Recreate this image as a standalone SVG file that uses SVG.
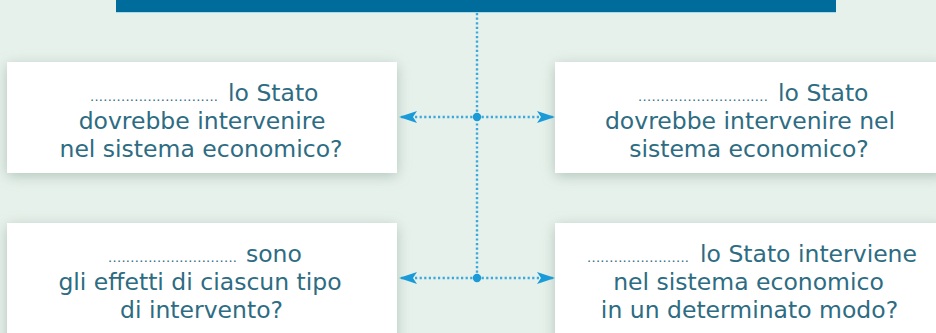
<svg xmlns="http://www.w3.org/2000/svg" width="936" height="333" viewBox="0 0 936 333">
  <defs>
    <filter id="sh" x="-10%" y="-20%" width="120%" height="150%">
      <feDropShadow dx="0" dy="3" stdDeviation="7" flood-color="#6f8f80" flood-opacity="0.45"/>
    </filter>
    <marker id="ah" viewBox="0 0 18 12" refX="18" refY="6" markerWidth="18" markerHeight="12" markerUnits="userSpaceOnUse" orient="auto">
      <path d="M0,0 L18,6 L0,12 L4,6 Z" fill="#1b9ad8"/>
    </marker>
    <style>
      .box{fill:#ffffff;filter:url(#sh)}
      .t{font-family:"DejaVu Sans",Verdana,sans-serif;font-size:23.5px;fill:#2d6c82}
      .c{text-anchor:middle}
      .d{font-family:"DejaVu Sans",Verdana,sans-serif;font-size:13px;fill:#2d6c82}
      .dl{stroke:#3aa9dc;stroke-width:2.4;stroke-dasharray:2.2 2.4;fill:none}
      .dot{fill:#1b9ad8}
    </style>
  </defs>
  <rect width="936" height="333" fill="#e7f1eb"/>
  <g id="header">
    <rect x="116" y="-5" width="720" height="17" fill="#006c9c"/>
    <line x1="116" y1="12.5" x2="836" y2="12.5" stroke="#a6dbe9" stroke-width="1"/>
  </g>
  <g id="box-tl">
    <rect class="box" x="7" y="62" width="390" height="111"/>
    <text class="d" x="90" y="100.7" textLength="128" lengthAdjust="spacing">.............................</text>
    <text class="t" x="228" y="100.7">lo Stato</text>
    <text class="t c" x="202" y="129">dovrebbe intervenire</text>
    <text class="t c" x="201" y="157">nel sistema economico?</text>
  </g>
  <g id="box-tr">
    <rect class="box" x="555" y="62" width="390" height="111"/>
    <text class="d" x="638" y="100.7" textLength="130" lengthAdjust="spacing">.............................</text>
    <text class="t" x="778" y="100.7">lo Stato</text>
    <text class="t c" x="750" y="129">dovrebbe intervenire nel</text>
    <text class="t c" x="749" y="157">sistema economico?</text>
  </g>
  <g id="box-bl">
    <rect class="box" x="7" y="223" width="390" height="130"/>
    <text class="d" x="108" y="261.5" textLength="129" lengthAdjust="spacing">.............................</text>
    <text class="t" x="246" y="261.5">sono</text>
    <text class="t c" x="200" y="289.5">gli effetti di ciascun tipo</text>
    <text class="t c" x="201.5" y="317.5">di intervento?</text>
  </g>
  <g id="box-br">
    <rect class="box" x="555" y="223" width="390" height="130"/>
    <text class="d" x="587" y="261.5" textLength="102" lengthAdjust="spacing">.......................</text>
    <text class="t" x="700" y="261.5">lo Stato interviene</text>
    <text class="t c" x="748.5" y="289.5">nel sistema economico</text>
    <text class="t c" x="749.5" y="317.5">in un determinato modo?</text>
  </g>
  <g id="connectors">
    <line class="dl" x1="477" y1="13" x2="477" y2="278"/>
    <line class="dl" x1="477" y1="117" x2="399" y2="117" marker-end="url(#ah)"/>
    <line class="dl" x1="477" y1="117" x2="555" y2="117" marker-end="url(#ah)"/>
    <line class="dl" x1="477" y1="278" x2="399" y2="278" marker-end="url(#ah)"/>
    <line class="dl" x1="477" y1="278" x2="555" y2="278" marker-end="url(#ah)"/>
    <circle class="dot" cx="477" cy="117" r="4.2"/>
    <circle class="dot" cx="477" cy="278" r="4.2"/>
  </g>
</svg>
